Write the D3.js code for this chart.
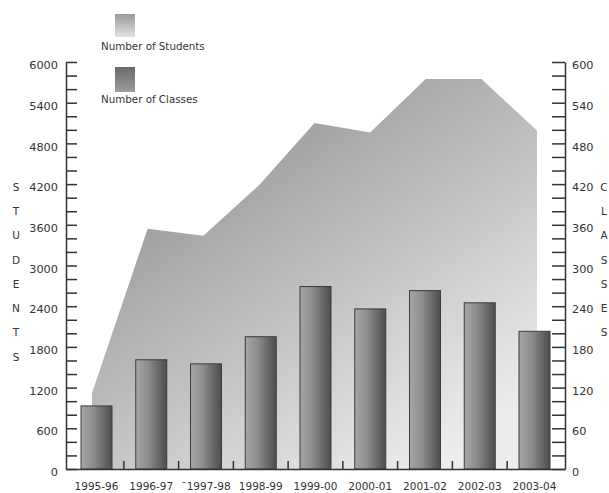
<!DOCTYPE html>
<html><head><meta charset="utf-8">
<script src="https://cdn.jsdelivr.net/npm/d3@7"></script>
<style>
html,body{margin:0;padding:0;background:#fff;}
svg{display:block;}
text{font-family:"DejaVu Sans",sans-serif;fill:#333;}
</style></head>
<body>
<svg id="chart" width="609" height="493"></svg>
<script>
const categories = ["1995-96","1996-97","1997-98","1998-99","1999-00","2000-01","2001-02","2002-03","2003-04"];
const xLabels = ["1995-96","1996-97","\u02C91997-98","1998-99","1999-00","2000-01","2001-02","2002-03","2003-04"];
const students = [1120,3540,3440,4180,5100,4960,5750,5750,4990];
const classes = [93,161,155,195,269,236,263,245,203];
const studentTicks = d3.range(0,6001,600);
const classTicks = d3.range(0,601,60);
const leftTitle = "STUDENTS";
const rightTitle = "CLASSES";
const legendLabels = ["Number of Students","Number of Classes"];

const svg = d3.select("#chart");
const L = 66, R = 565, T = 62, B = 469;

const x = d3.scaleBand().domain(categories).range([L,R]).paddingInner(0.434).paddingOuter(0.274);
const xa = d3.scalePoint().domain(categories).range([L+26,R-28]);
const yS = d3.scaleLinear().domain([0,6000]).range([B,T]);
const yC = d3.scaleLinear().domain([0,600]).range([B,T]);

const defs = svg.append("defs");
const ag = defs.append("linearGradient").attr("id","areaGrad")
  .attr("gradientUnits","userSpaceOnUse").attr("x1",170).attr("y1",90).attr("x2",430).attr("y2",469);
ag.append("stop").attr("offset","0").attr("stop-color","#8c8c8c");
ag.append("stop").attr("offset","1").attr("stop-color","#ededed");
const bg = defs.append("linearGradient").attr("id","barGrad").attr("x1",0).attr("x2",1).attr("y1",0).attr("y2",0);
bg.append("stop").attr("offset","0").attr("stop-color","#a6a6a6");
bg.append("stop").attr("offset","0.4").attr("stop-color","#8d8d8d");
bg.append("stop").attr("offset","0.85").attr("stop-color","#5c5c5c");
bg.append("stop").attr("offset","1").attr("stop-color","#4e4e4e");
const lg1 = defs.append("linearGradient").attr("id","leg1").attr("x1",0).attr("x2",0).attr("y1",0).attr("y2",1);
lg1.append("stop").attr("offset","0").attr("stop-color","#9a9a9a");
lg1.append("stop").attr("offset","1").attr("stop-color","#e2e2e2");
const lg2 = defs.append("linearGradient").attr("id","leg2").attr("x1",0).attr("x2",0).attr("y1",0).attr("y2",1);
lg2.append("stop").attr("offset","0").attr("stop-color","#6a6a6a");
lg2.append("stop").attr("offset","1").attr("stop-color","#9c9c9c");

// area (students)
const area = d3.area().x((d,i)=>xa(categories[i])).y0(B).y1(d=>yS(d));
svg.append("path").datum(students).attr("d",area).attr("fill","url(#areaGrad)");

// bars (classes)
svg.append("g").selectAll("rect").data(classes).join("rect")
  .attr("x",(d,i)=>x(categories[i])).attr("width",x.bandwidth())
  .attr("y",d=>yC(d)).attr("height",d=>B-yC(d))
  .attr("fill","url(#barGrad)").attr("stroke","#3c3c3c").attr("stroke-width",1);

// left axis: minor ticks inward
const minorS = d3.range(0,6001,200);
const gl = svg.append("g").attr("transform",`translate(${L},0)`)
  .call(d3.axisRight(yS).tickValues(minorS).tickSize(11).tickSizeOuter(0).tickFormat(""));
gl.selectAll("line,path").attr("stroke","#333").attr("stroke-width",1.5);
const gll = svg.append("g").attr("transform",`translate(${L},3)`)
  .call(d3.axisLeft(yS).tickValues(studentTicks).tickSize(0).tickPadding(8).tickFormat(d3.format("d")));
gll.select(".domain").remove();
gll.selectAll("text").style("font-size","11.3px").style("font-family","DejaVu Sans").attr("fill","#333");

// right axis
const minorC = d3.range(0,601,20);
const gr = svg.append("g").attr("transform",`translate(${R},0)`)
  .call(d3.axisLeft(yC).tickValues(minorC).tickSize(13).tickSizeOuter(0).tickFormat(""));
gr.selectAll("line,path").attr("stroke","#333").attr("stroke-width",1.5);
const grl = svg.append("g").attr("transform",`translate(${R},3)`)
  .call(d3.axisRight(yC).tickValues(classTicks).tickSize(0).tickPadding(7).tickFormat(d3.format("d")));
grl.select(".domain").remove();
grl.selectAll("text").style("font-size","11.3px").style("font-family","DejaVu Sans").attr("fill","#333");

// bottom axis
const gb = svg.append("g").attr("transform",`translate(0,${B})`)
  .call(d3.axisBottom(x).tickSize(0).tickSizeOuter(0).tickPadding(14).tickFormat((d,i)=>xLabels[i]));
gb.select(".domain").attr("stroke","#333").attr("stroke-width",1.5);
gb.selectAll("text").style("font-size","10.5px").style("font-family","DejaVu Sans").attr("fill","#333");
const step = x.step();
svg.append("g").selectAll("line").data(categories.slice(1)).join("line")
  .attr("x1",d=>x(d)-step*x.paddingInner()/2).attr("x2",d=>x(d)-step*x.paddingInner()/2)
  .attr("y1",B).attr("y2",B-8).attr("stroke","#333").attr("stroke-width",1.5);

// axis titles
svg.append("g").selectAll("text").data(leftTitle.split("")).join("text")
  .attr("x",16).attr("y",(d,i)=>187+i*24.3).attr("dy","0.35em").attr("text-anchor","middle")
  .style("font-size","10.5px").text(d=>d);
svg.append("g").selectAll("text").data(rightTitle.split("")).join("text")
  .attr("x",604).attr("y",(d,i)=>187+i*24.3).attr("dy","0.35em").attr("text-anchor","middle")
  .style("font-size","10.5px").text(d=>d);

// legend
svg.append("rect").attr("x",115).attr("y",14).attr("width",20).attr("height",23).attr("fill","url(#leg1)");
svg.append("rect").attr("x",115).attr("y",67).attr("width",20).attr("height",25).attr("fill","url(#leg2)");
svg.append("text").attr("x",101).attr("y",50).style("font-size","10.3px").text(legendLabels[0]);
svg.append("text").attr("x",101).attr("y",103).style("font-size","10.3px").text(legendLabels[1]);
</script>
</body></html>
